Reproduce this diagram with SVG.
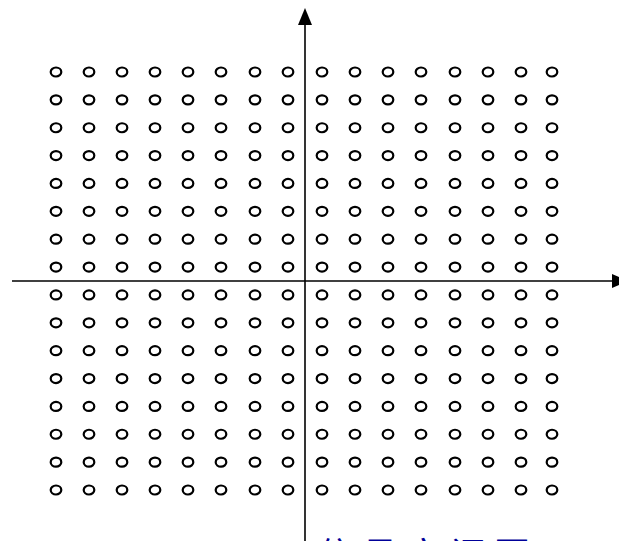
<svg xmlns="http://www.w3.org/2000/svg" width="619" height="541" viewBox="0 0 619 541">
<style>
.pt{fill:none;stroke:#000;stroke-width:2.2}
.ax{stroke:#000;stroke-width:1.6;fill:none}
.lbl{font-family:"Noto Sans CJK SC","Liberation Sans",sans-serif;font-size:36px;fill:#000099;letter-spacing:8px}
</style>
<defs>
<marker id="ah" markerWidth="16" markerHeight="14" refX="0" refY="7" orient="auto" markerUnits="userSpaceOnUse" viewBox="0 0 16 14"><path d="M0,0 L16,7 L0,14 Z" fill="#000"/></marker>
<ellipse id="c" class="pt" cx="0" cy="0" rx="5.3" ry="4.5"/>
</defs>
<rect width="619" height="541" fill="#fff"/>
<g id="points">
<g id="row" transform="translate(0,72)">
<use href="#c" x="56"/><use href="#c" x="89"/><use href="#c" x="122"/><use href="#c" x="155"/><use href="#c" x="188"/><use href="#c" x="221"/><use href="#c" x="255"/><use href="#c" x="288"/><use href="#c" x="322"/><use href="#c" x="355"/><use href="#c" x="388"/><use href="#c" x="421"/><use href="#c" x="455"/><use href="#c" x="488"/><use href="#c" x="521"/><use href="#c" x="552"/>
</g>
<use href="#row" y="27.87"/><use href="#row" y="55.73"/><use href="#row" y="83.6"/><use href="#row" y="111.47"/><use href="#row" y="139.33"/><use href="#row" y="167.2"/><use href="#row" y="195.07"/><use href="#row" y="222.93"/><use href="#row" y="250.8"/><use href="#row" y="278.67"/><use href="#row" y="306.53"/><use href="#row" y="334.4"/><use href="#row" y="362.27"/><use href="#row" y="390.13"/><use href="#row" y="418"/>
</g>
<g id="connectors">
<line class="ax" x1="12" y1="281" x2="612" y2="281" marker-end="url(#ah)"/>
<line class="ax" x1="305" y1="541" x2="305" y2="25"/>
<path d="M305,8 L298,25 L312,25 Z" fill="#000"/>
</g>
<g id="label">
<text class="lbl" x="318" y="569">信号空间图</text>
</g>
</svg>
